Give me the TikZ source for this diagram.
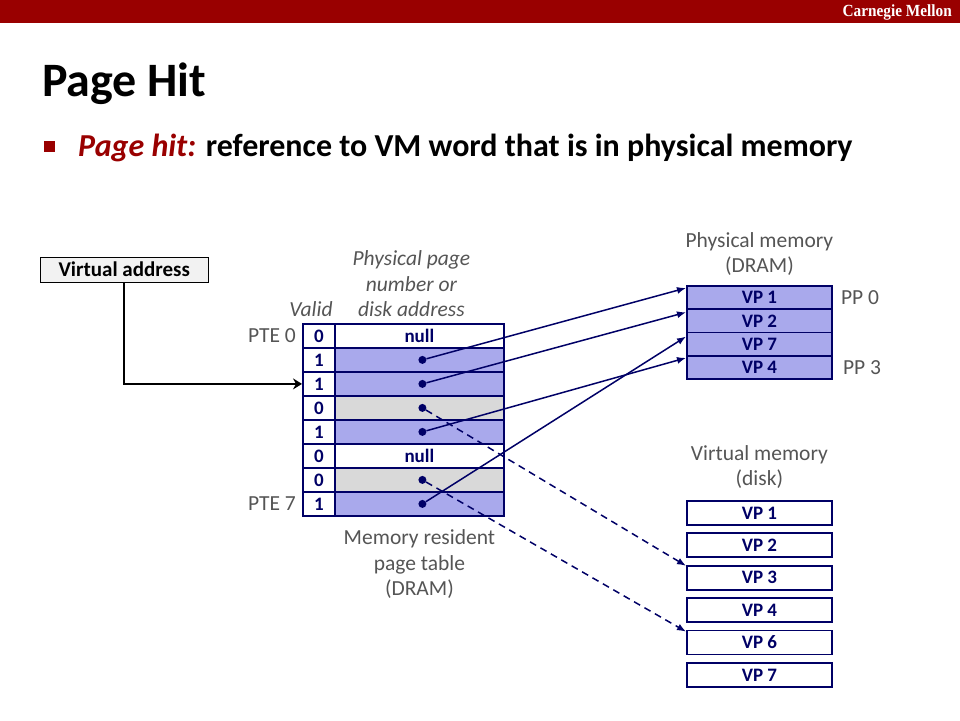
\documentclass[tikz,border=0pt]{standalone}
\usepackage{fontspec}
\setmainfont{Carlito}
\newfontfamily\cmufont[FakeStretch=0.9]{Liberation Serif}
\usetikzlibrary{arrows.meta,positioning,calc}
\definecolor{cmuRed}{HTML}{990000}
\definecolor{ptNavy}{HTML}{000066}
\definecolor{ptBlue}{HTML}{A9A9EC}
\definecolor{ptGray}{HTML}{D9D9D9}
\definecolor{txtGray}{HTML}{555555}
\definecolor{vaGray}{HTML}{F2F2F2}

\tikzset{
  cell/.style={draw=ptNavy, line width=1.8pt, inner sep=0pt, anchor=north west,
    text=ptNavy, font=\fontsize{19}{19}\selectfont\bfseries},
  lbl/.style={text=txtGray, inner sep=0pt, align=center,
    font=\fontsize{21.5}{25.5}\selectfont},
  dot/.style={circle, fill=ptNavy, inner sep=0pt, minimum size=8pt},
  ptr/.style={ptNavy, line width=1.5pt, -{Latex[length=9pt,width=7pt]}},
}

\begin{document}
\begin{tikzpicture}[x=1pt, y=-1pt]
  \useasboundingbox (0,0) rectangle (960,720);
  % header bar
  \fill[cmuRed] (0,0) rectangle (960,23);
  \node[anchor=east, text=white, inner sep=0pt, font=\cmufont\fontsize{17}{17}\selectfont\bfseries] (cmu) at (952,12) {Carnegie Mellon};
  \node[anchor=base west, inner sep=0pt, font=\fontsize{48}{52}\selectfont\bfseries] (title) at (42,96) {Page Hit};
  \fill[cmuRed] (44,141) rectangle (55,152);
  \node[anchor=base west, inner sep=0pt, font=\fontsize{32}{34}\selectfont\bfseries] (bullet) at (78,156)
    {\textcolor{cmuRed}{\itshape Page hit:} reference to VM word that is in physical memory};

  % virtual address
  \node[draw=black, fill=vaGray, anchor=north west, minimum width=168pt, minimum height=25pt,
    inner sep=0pt, font=\fontsize{21}{21}\selectfont\bfseries] (va) at (40,257) {Virtual address};

  % page table
  \foreach \i/\v/\col/\txt in {0/0/white/null, 1/1/ptBlue/, 2/1/ptBlue/, 3/0/ptGray/,
                               4/1/ptBlue/, 5/0/white/null, 6/0/ptGray/, 7/1/ptBlue/}{
    \node[cell, minimum width=32pt, minimum height=24pt, fill=white] (v\i) at (302,323+24*\i) {\v};
    \node[cell, minimum width=169pt, minimum height=24pt, fill=\col] (p\i) at (334,323+24*\i) {\txt};
  }
  \foreach \i in {1,2,3,4,6,7}
    \node[dot] (d\i) at ([xshift=3pt]p\i.center) {};

  \draw[black, line width=2.5pt, -{Stealth[length=9pt,width=11pt,inset=3pt]}] (va.south) |- (v2.west);

  \node[lbl, left=6pt of v0] (pte0) {PTE 0};
  \node[lbl, left=6pt of v7] (pte7) {PTE 7};
  \node[lbl, anchor=south east, font=\fontsize{21.5}{25.5}\selectfont\itshape] (valid) at ([xshift=-3pt,yshift=6pt]v0.north east) {Valid};
  \node[lbl, anchor=south, font=\fontsize{21.5}{25.5}\selectfont\itshape] (ppn) at ([xshift=-8pt,yshift=6pt]p0.north) {Physical page\\number or\\disk address};
  \node[lbl, anchor=north] (ptlbl) at ([xshift=0pt,yshift=-13pt]p7.south) {Memory resident\\page table\\(DRAM)};

  % physical memory
  \foreach \i/\txt in {0/VP 1, 1/VP 2, 2/VP 7, 3/VP 4}
    \node[cell, minimum width=145pt, minimum height=23.3pt, fill=ptBlue] (pm\i) at (686,285+23.3*\i) {\txt};
  \node[lbl, anchor=south] (pmlbl) at ([yshift=9pt]pm0.north) {Physical memory\\(DRAM)};
  \node[lbl, right=8pt of pm0] (pp0) {PP 0};
  \node[lbl, right=10pt of pm3] (pp3) {PP 3};

  % virtual memory
  \foreach \i/\txt in {1/VP 1, 2/VP 2, 3/VP 3, 4/VP 4, 5/VP 6, 6/VP 7}
    \node[cell, minimum width=145pt, minimum height=24pt, fill=white] (vm\i) at (686,500+32.4*\i-32.4) {\txt};
  \node[lbl, anchor=south] (vmlbl) at ([yshift=11pt]vm1.north) {Virtual memory\\(disk)};

  % page table entries
  \draw[ptr] (d1) -- ([yshift=-3pt]pm0.north west);
  \draw[ptr] (d2) -- ([yshift=-4pt]pm1.north west);
  \draw[ptr] (d4) -- ([yshift=-3pt]pm3.north west);
  \draw[ptr] (d7) -- ([yshift=-5pt]pm2.north west);
  \draw[ptr, dashed, dash pattern=on 7pt off 5pt] (d3) -- ([yshift=-1pt]vm3.north west);
  \draw[ptr, dashed, dash pattern=on 7pt off 5pt] (d6) -- ([yshift=-2pt]vm5.north west);
\end{tikzpicture}
\end{document}
